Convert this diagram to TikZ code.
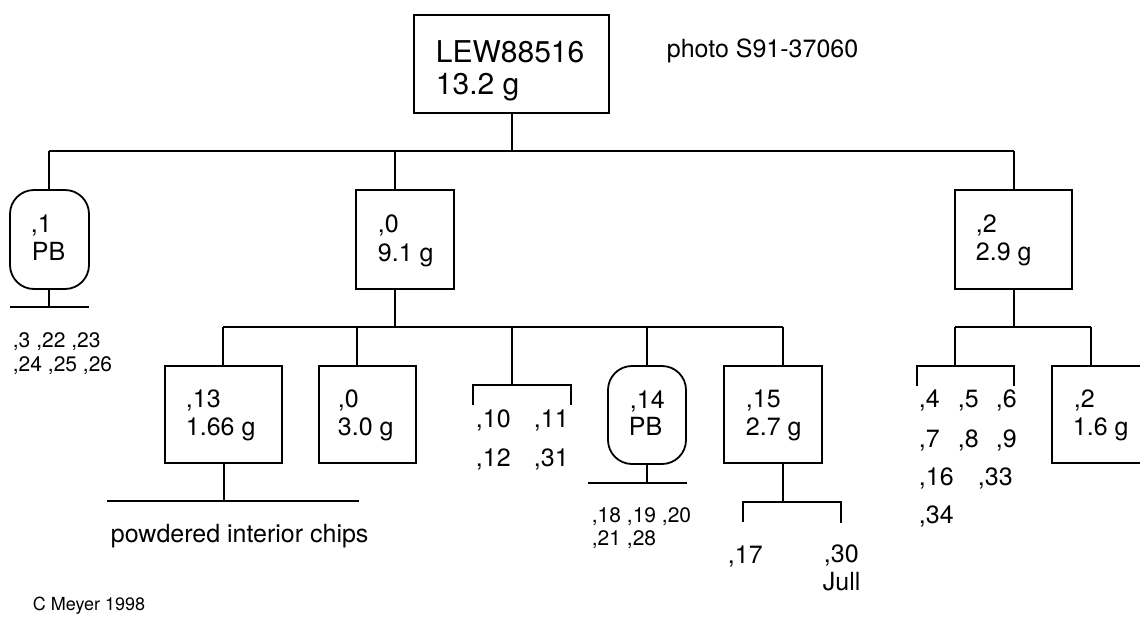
\documentclass[tikz,border=0pt]{standalone}
\usepackage{fontspec}
\setmainfont{TeX Gyre Heros}
\begin{document}
\begin{tikzpicture}[x=1pt,y=-1pt,
  line width=1.8pt,
  box/.style={draw,rectangle,inner sep=0pt},
  pbbox/.style={draw,rectangle,rounded corners=24pt,inner sep=0pt},
  txt/.style={anchor=base west,inner sep=0pt,font=\fontsize{25}{30}\selectfont},
  txtL/.style={anchor=base west,inner sep=0pt,font=\fontsize{30}{36}\selectfont},
  txtS/.style={anchor=base west,inner sep=0pt,font=\fontsize{21}{25}\selectfont},
  txtXS/.style={anchor=base west,inner sep=0pt,font=\fontsize{18}{22}\selectfont}]
\useasboundingbox (0,0) rectangle (1140,616);
\clip (0,0) rectangle (1140,616);

% ---- boxes ----
\node[box,minimum width=195pt,minimum height=98pt] (top) at (511.5,64) {};
\node[pbbox,minimum width=79pt,minimum height=99pt] (pb1) at (49.5,239.5) {};
\node[box,minimum width=98pt,minimum height=99pt] (b0) at (405,239.5) {};
\node[box,minimum width=117pt,minimum height=99pt] (b2) at (1013.5,239.5) {};
\node[box,minimum width=117pt,minimum height=97pt] (b13) at (223.5,414.5) {};
\node[box,minimum width=97pt,minimum height=97pt] (b03) at (367.5,414.5) {};
\node[pbbox,minimum width=78pt,minimum height=98pt] (pb14) at (647,415) {};
\node[box,minimum width=98pt,minimum height=97pt] (b15) at (773,414.5) {};
\node[box,minimum width=108pt,minimum height=97pt] (b2b) at (1106,414.5) {};

% ---- box texts ----
\node[txtL] (t1) at (435,62) {LEW88516};
\node[txtL] (t2) at (435,94) {13.2 g};
\node[txt] (t3) at (30,232) {,1};
\node[txt] (t4) at (31,260) {PB};
\node[txt] (t5) at (377,232) {,0};
\node[txt] (t6) at (377,261) {9.1 g};
\node[txt] (t7) at (975,232) {,2};
\node[txt] (t8) at (975,260) {2.9 g};
\node[txt] (t9) at (185,407) {,13};
\node[txt] (t10) at (185,435) {1.66 g};
\node[txt] (t11) at (337,407) {,0};
\node[txt] (t12) at (337,435) {3.0 g};
\node[txt] (t13) at (629,408) {,14};
\node[txt] (t14) at (628,435) {PB};
\node[txt] (t15) at (745,407) {,15};
\node[txt] (t16) at (745,435) {2.7 g};
\node[txt] (t17) at (1073,407) {,2};
\node[txt] (t18) at (1072,435) {1.6 g};

% ---- free texts ----
\node[txt] (photo) at (666,57) {photo S91-37060};
\node[txtS] (l1a) at (12,347) {,3 ,22 ,23};
\node[txtS] (l1b) at (12,371) {,24 ,25 ,26};
\node[txt] (l10) at (475,427) {,10};
\node[txt] (l11) at (533,427) {,11};
\node[txt] (l12) at (475,466) {,12};
\node[txt] (l31) at (533,466) {,31};
\node[txtS] (l18) at (591,522) {,18 ,19 ,20};
\node[txtS] (l21) at (591,545) {,21 ,28};
\node[txt] (pow) at (110,542) {powdered interior chips};
\node[txt] (l17) at (727,563) {,17};
\node[txt] (l30) at (823,562) {,30};
\node[txt] (jull) at (822,590) {Jull};
\node[txt] (l4) at (918,407) {,4};
\node[txt] (l5) at (957,407) {,5};
\node[txt] (l6) at (995,407) {,6};
\node[txt] (l7) at (918,447) {,7};
\node[txt] (l8) at (957,447) {,8};
\node[txt] (l9) at (995,447) {,9};
\node[txt] (l16) at (918,485) {,16};
\node[txt] (l33) at (977,485) {,33};
\node[txt] (l34) at (918,523) {,34};
\node[txtXS] (cm) at (32,610) {C Meyer 1998};

% ---- junction coordinates ----
\coordinate (jTop) at (512,151);
\coordinate (hL) at (49,151);
\coordinate (hM) at (395,151);
\coordinate (hR) at (1014,151);
\coordinate (j0) at (395,327);
\coordinate (a13) at (223,327);
\coordinate (a03) at (357,327);
\coordinate (aBr) at (512,327);
\coordinate (a14) at (647,327);
\coordinate (a15) at (783,327);
\coordinate (brA) at (512,385);
\coordinate (j2) at (1014,327);
\coordinate (aL) at (955,327);
\coordinate (aR) at (1091,327);
\coordinate (brB) at (955,366);
\coordinate (p1) at (49,307);
\coordinate (p13) at (224,501);
\coordinate (p14) at (647,483);
\coordinate (p15) at (783,502);

% ---- connectors level 1 ----
\draw (top.south -| jTop) -- (jTop);
\draw (hL) -- (hR);
\draw (hL) -- (hL |- pb1.north);
\draw (hM) -- (hM |- b0.north);
\draw (hR) -- (hR |- b2.north);

% under ,1 PB
\draw (pb1.south -| p1) -- (p1);
\draw (10,307) -- (89,307);

% under ,0 9.1 g
\draw (b0.south -| j0) -- (j0);
\draw (a13) -- (a15);
\draw (a13) -- (a13 |- b13.north);
\draw (a03) -- (a03 |- b03.north);
\draw (aBr) -- (brA);
\draw (a14) -- (a14 |- pb14.north);
\draw (a15) -- (a15 |- b15.north);
\draw (473,405) -- (473,385) -- (571,385) -- (571,405);

% under ,13
\draw (b13.south -| p13) -- (p13);
\draw (107,501) -- (359,501);

% under ,14 PB
\draw (pb14.south -| p14) -- (p14);
\draw (588,483) -- (687,483);

% under ,15
\draw (b15.south -| p15) -- (p15);
\draw (743,522) -- (743,502) -- (841,502) -- (841,523);

% under ,2 2.9 g
\draw (b2.south -| j2) -- (j2);
\draw (aL) -- (aR);
\draw (aL) -- (brB);
\draw (aR) -- (aR |- b2b.north);
\draw (917,386) -- (917,366) -- (1014,366) -- (1014,386);
\end{tikzpicture}
\end{document}
